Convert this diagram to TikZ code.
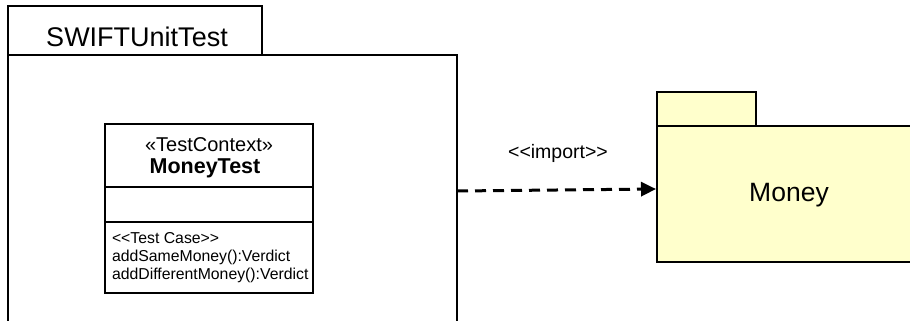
\documentclass[tikz,border=0pt]{standalone}
\usepackage{fontspec}
\setmainfont{Liberation Sans}[Ligatures=TeXOff]
\usetikzlibrary{arrows.meta,calc}
\definecolor{pkgyellow}{HTML}{FFFFCC}
\newcommand{\dlt}{<\kern0pt<}
\newcommand{\dgt}{>\kern0pt>}
\begin{document}
\begin{tikzpicture}[x=1pt,y=-1pt,
  box/.style={draw=black, line width=1.6pt, inner sep=0pt, outer sep=0pt, anchor=north west},
  ybox/.style={box, fill=pkgyellow},
  divider/.style={draw=black, line width=2pt},
  txt/.style={inner sep=0pt, outer sep=0pt},
  dep/.style={draw=black, line width=3pt, dash pattern=on 11pt off 7pt, -{Triangle[length=15pt,width=14pt]}}]
\useasboundingbox (0,0) rectangle (910,321);
\clip (0,0) rectangle (910,321);
% SWIFTUnitTest package
\node[box, minimum width=254pt, minimum height=49pt] (swtab) at (8,6) {};
\node[box, minimum width=449pt, minimum height=300pt] (swbody) at (8,55) {};
\node[txt, font=\fontsize{27}{30}\selectfont] (swtitle) at (137,37) {SWIFTUnitTest};
% class MoneyTest
\node[box, fill=white, minimum width=208pt, minimum height=169pt] (cls) at (105,124) {};
\draw[divider] ($(cls.north west)+(0,63)$) coordinate (d1l) -- ($(cls.north east)+(0,63)$) coordinate (d1r);
\draw[divider] ($(cls.north west)+(0,98)$) coordinate (d2l) -- ($(cls.north east)+(0,98)$) coordinate (d2r);
\node[txt, font=\fontsize{20}{22}\selectfont] (stereo) at (209,145) {«TestContext»};
\node[txt, font=\fontsize{21.5}{24}\selectfont\bfseries] (clsname) at (205,168) {MoneyTest};
\node[txt, anchor=west, align=left, font=\fontsize{15.8}{18}\selectfont] (ops) at (112,258)
  {\dlt Test Case\dgt\\addSameMoney():Verdict\\addDifferentMoney():Verdict};
% Money package
\node[ybox, minimum width=99pt, minimum height=34pt] (mtab) at (657,92) {};
\node[ybox, minimum width=270pt, minimum height=136pt] (mbody) at (657,126) {};
\node[txt, font=\fontsize{26.5}{30}\selectfont] (mname) at (789,195) {Money};
% import dependency
\coordinate (impstart) at ($(swbody.north east)+(0,136)$);
\coordinate (impend) at ($(mbody.north west)+(-1,63)$);
\draw[dep] (impstart) -- (impend);
\node[txt, font=\fontsize{19.5}{22}\selectfont] (implabel) at (558,153) {\dlt import\dgt};
\end{tikzpicture}
\end{document}
